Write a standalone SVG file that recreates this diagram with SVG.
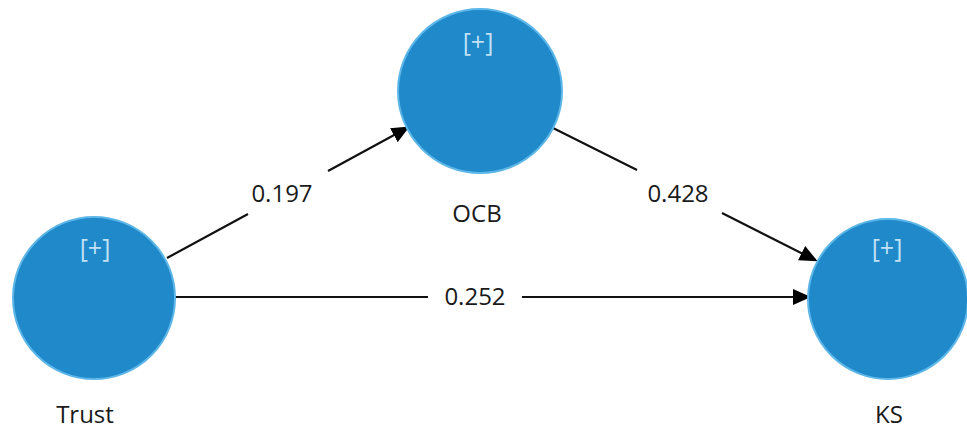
<svg xmlns="http://www.w3.org/2000/svg" width="967" height="431" viewBox="0 0 967 431">
<style>
.node{fill:#1f89c9;stroke:#5db6e8;stroke-width:2}
.plus{font-family:"Open Sans","Noto Sans",sans-serif;font-size:25px;fill:#bfe0f5;text-anchor:middle}
.lbl{font-family:"Open Sans","Noto Sans",sans-serif;font-size:24px;fill:#1a1a1a;text-anchor:middle}
.edge{fill:none;stroke:#111;stroke-width:2.2}
</style>
<defs>
<marker id="arr" markerUnits="userSpaceOnUse" markerWidth="18" markerHeight="16" refX="15" refY="8" orient="auto">
<path d="M0,0 L18,8 L0,16 z" fill="#000"/>
</marker>
</defs>
<rect width="967" height="431" fill="#fff"/>
<g id="connectors">
<path class="edge" d="M167,258 L248,214 M328,171 L407,128" marker-end="url(#arr)"/>
<path class="edge" d="M553,128 L637,170 M722,213 L815,260" marker-end="url(#arr)"/>
<path class="edge" d="M175,297 L428,297 M522,297 L808,297" marker-end="url(#arr)"/>
<text class="lbl" x="282" y="202">0.197</text>
<text class="lbl" x="678" y="202">0.428</text>
<text class="lbl" x="475" y="305">0.252</text>
</g>
<g id="trust">
<circle class="node" cx="94" cy="298" r="81"/>
<text class="plus" x="95" y="257">[+]</text>
<text class="lbl" x="85" y="423">Trust</text>
</g>
<g id="ocb">
<circle class="node" cx="480" cy="91" r="82"/>
<text class="plus" x="478" y="51">[+]</text>
<text class="lbl" x="477" y="222">OCB</text>
</g>
<g id="ks">
<circle class="node" cx="888" cy="299" r="80"/>
<text class="plus" x="887" y="257">[+]</text>
<text class="lbl" x="889" y="423">KS</text>
</g>
</svg>
